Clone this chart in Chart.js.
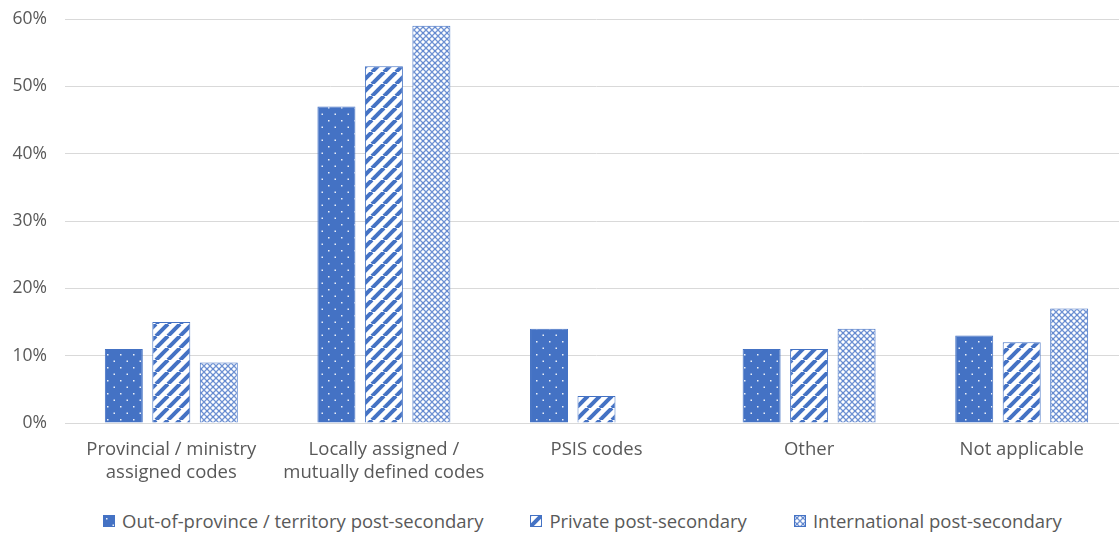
<!DOCTYPE html>
<html>
<head>
<meta charset="utf-8">
<script src="https://cdn.jsdelivr.net/npm/chart.js"></script>
<style>
  html, body { margin:0; padding:0; background:#fff; overflow:hidden; }
  #page { position:relative; width:1119px; height:533px; overflow:hidden; }
  /* the plot runs slightly past the right edge, as in the cropped original */
  #wrap { position:absolute; left:0; top:0; width:1128px; height:485px; }
  #legend { position:absolute; left:103px; top:509px; display:flex;
            font-family:'Open Sans'; font-size:18.5px; line-height:24px; color:#595959; }
  #legend .item { display:flex; align-items:center; margin-right:47px; }
  #legend canvas { margin-right:7px; }
</style>
</head>
<body>
<div id="page">
  <div id="wrap"><canvas id="chart"></canvas></div>
  <div id="legend"></div>
</div>
<script>
const categories = [
  ["Provincial / ministry", "assigned codes"],
  ["Locally assigned /", "mutually defined codes"],
  "PSIS codes",
  "Other",
  "Not applicable"
];
const seriesNames = [
  "Out-of-province / territory post-secondary",
  "Private post-secondary",
  "International post-secondary"
];
const outOfProvince = [11, 47, 14, 11, 13];
const privatePS = [15, 53, 4, 11, 12];
const international = [9, 59, null, 14, 17];
const yTicks = [0, 10, 20, 30, 40, 50, 60];

const blue = '#4472C4';
const grey = '#595959';

function makePattern(kind){
  const c = document.createElement('canvas');
  const ctx = c.getContext('2d');
  if(kind === 'dots'){
    c.width = 13; c.height = 13;
    ctx.fillStyle = blue; ctx.fillRect(0,0,13,13);
    ctx.fillStyle = 'rgba(255,255,255,0.9)';
    ctx.fillRect(3,3,1.5,1.5);
    ctx.fillRect(9.5,9.5,1.5,1.5);
  } else if(kind === 'stripes'){
    c.width = 12; c.height = 12;
    ctx.fillStyle = '#fff'; ctx.fillRect(0,0,12,12);
    ctx.strokeStyle = blue; ctx.lineWidth = 4;
    for(let k=-12;k<=24;k+=12){
      ctx.beginPath(); ctx.moveTo(k,12); ctx.lineTo(k+12,0); ctx.stroke();
    }
  } else {
    c.width = 6; c.height = 6;
    ctx.fillStyle = '#fff'; ctx.fillRect(0,0,6,6);
    ctx.strokeStyle = '#6f92d3'; ctx.lineWidth = 1.3;
    ctx.beginPath();
    ctx.moveTo(0,0); ctx.lineTo(6,6);
    ctx.moveTo(6,0); ctx.lineTo(0,6);
    ctx.stroke();
    ctx.fillStyle = blue;
    ctx.fillRect(2.5,2.5,1,1);
  }
  return ctx.createPattern(c, 'repeat');
}

const values = [outOfProvince, privatePS, international];
const fills = [makePattern('dots'), makePattern('stripes'), makePattern('cross')];

const chart = new Chart(document.getElementById('chart'), {
  type: 'bar',
  data: {
    labels: categories,
    datasets: seriesNames.map((name, i) => ({
      label: name,
      data: values[i],
      backgroundColor: fills[i],
      borderColor: blue,
      borderWidth: 1,
      categoryPercentage: 0.67,
      barPercentage: 0.8
    }))
  },
  options: {
    responsive: true,
    maintainAspectRatio: false,
    animation: false,
    layout: { padding: { top: 19, right: 0, left: 9, bottom: 0 } },
    plugins: {
      tooltip: { enabled: false },
      legend: { display: false }
    },
    scales: {
      x: {
        grid: { display: false, drawTicks: false },
        border: { color: '#d9d9d9' },
        ticks: { color: grey, padding: 15, maxRotation: 0, autoSkip: false,
                 font: { family: 'Open Sans', size: 18.5, lineHeight: 1.25 } },
        afterFit: s => { s.paddingLeft = 0; s.paddingRight = 0; s.height = 62; }
      },
      y: {
        min: 0, max: 60,
        afterBuildTicks: axis => { axis.ticks = yTicks.map(v => ({ value: v })); },
        grid: { color: '#d9d9d9', drawTicks: false },
        border: { display: false },
        ticks: { color: grey, padding: 18,
                 font: { family: 'Open Sans', size: 17.5, lineHeight: 1.1 },
                 callback: v => v + '%' },
        afterFit: s => { s.width = 56; s.paddingTop = 0; s.paddingBottom = 0; }
      }
    }
  }
});

// legend below the chart, using the same fills as the datasets
const legend = document.getElementById('legend');
chart.data.datasets.forEach(ds => {
  const item = document.createElement('div');
  item.className = 'item';
  const box = document.createElement('canvas');
  box.width = 12; box.height = 12;
  const bctx = box.getContext('2d');
  bctx.fillStyle = ds.backgroundColor;
  bctx.fillRect(0,0,12,12);
  bctx.strokeStyle = blue;
  bctx.strokeRect(0.5,0.5,11,11);
  const label = document.createElement('span');
  label.textContent = ds.label;
  item.appendChild(box);
  item.appendChild(label);
  legend.appendChild(item);
});
</script>
</body>
</html>
